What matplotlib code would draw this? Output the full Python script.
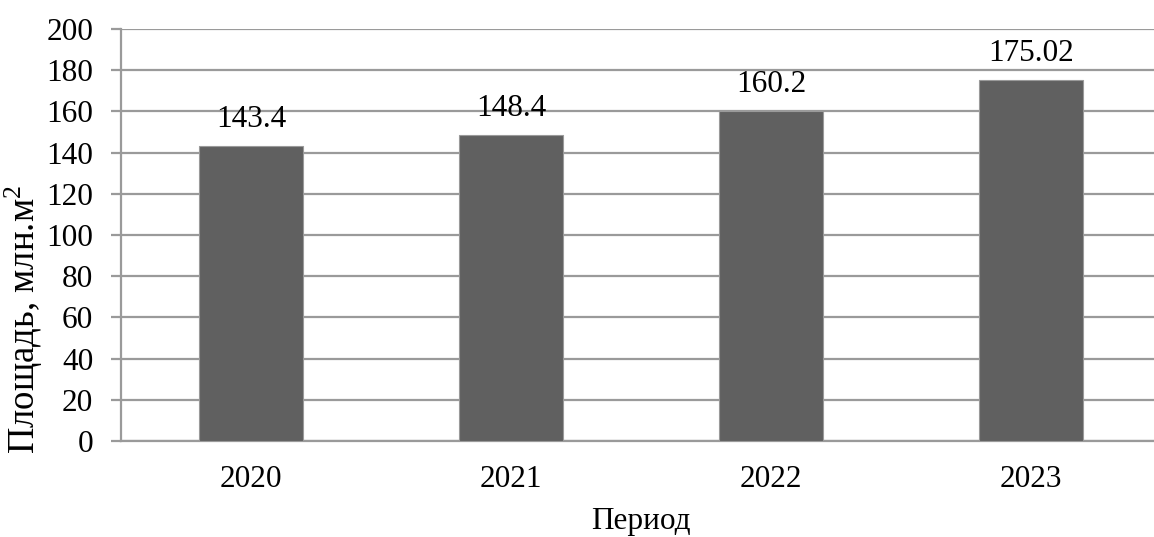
import matplotlib
matplotlib.use("Agg")
import matplotlib.pyplot as plt

years = ["2020", "2021", "2022", "2023"]
area = [143.4, 148.4, 160.2, 175.02]
value_labels = ["143.4", "148.4", "160.2", "175.02"]
y_ticks = [0, 20, 40, 60, 80, 100, 120, 140, 160, 180, 200]

plt.rcParams["font.family"] = ["Liberation Serif", "DejaVu Serif"]
plt.rcParams["mathtext.fontset"] = "custom"
plt.rcParams["mathtext.rm"] = "Liberation Serif"
plt.rcParams["mathtext.it"] = "Liberation Serif"

W, H, DPI = 1154, 537, 100
fig = plt.figure(figsize=(W / DPI, H / DPI), dpi=DPI)

# axes box in pixels: left 121, bottom 441, top 29; runs past the right edge
left, right, top, bottom = 121, 1161, 29, 441
ax = fig.add_axes([left / W, 1 - bottom / H, (right - left) / W, (bottom - top) / H])

grid_c = "#9a9a9a"
x = list(range(len(years)))
ax.bar(x, area, width=0.4, color="#606060", edgecolor="#9a9a9a", linewidth=0.8, zorder=3)

for xi, v, s in zip(x, area, value_labels):
    ax.annotate(s, (xi, v), xytext=(0, 13.7), textcoords="offset points",
                ha="center", va="baseline", fontsize=22.5, color="black", zorder=4)

ax.set_xlim(-0.5, 3.5)
ax.set_ylim(0, 200)
ax.set_yticks(y_ticks)
ax.set_xticks(x)
ax.set_xticklabels(years)
ax.yaxis.grid(True, color=grid_c, linewidth=1.6, zorder=0)
ax.set_axisbelow(True)

for s in ["top", "right"]:
    ax.spines[s].set_visible(False)
ax.spines["left"].set_color(grid_c)
ax.spines["left"].set_linewidth(1.6)
ax.spines["bottom"].set_color(grid_c)
ax.spines["bottom"].set_linewidth(1.6)

ax.tick_params(axis="y", length=7, width=1.6, color=grid_c, pad=13, labelsize=22.5)
ax.tick_params(axis="x", length=0, pad=17, labelsize=22.5)

ax.set_xlabel("Период", fontsize=22.5, labelpad=10)
fig.text(24 / W, 1 - 319 / H, "Площадь, млн.м$^{2}$", rotation=90,
         ha="center", va="center", fontsize=26.5)

fig.savefig("out.png", dpi=DPI, facecolor="white")
